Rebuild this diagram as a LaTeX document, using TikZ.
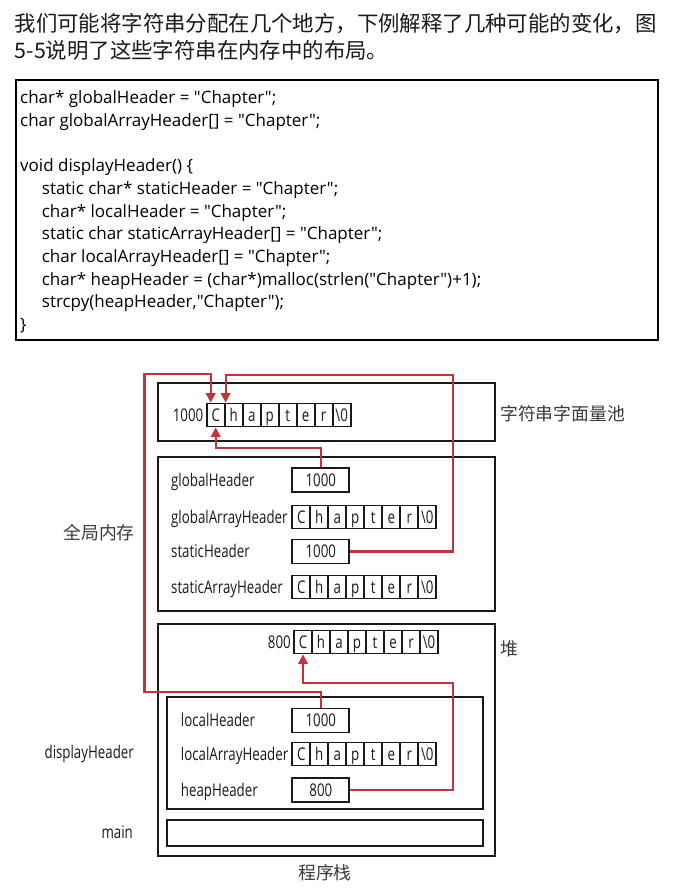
\documentclass[tikz,border=0pt]{standalone}
\usepackage{fontspec}
\usetikzlibrary{arrows.meta}
\newfontfamily\cjk{Noto Sans CJK SC}
\newfontfamily\codefont{Open Sans}
\newfontfamily\figfont[FakeStretch=0.76]{Open Sans}
\definecolor{arrowred}{RGB}{192,52,58}
\definecolor{ink}{RGB}{25,25,25}
\tikzset{
  lbl/.style={font=\figfont\fontsize{17.5}{20}\selectfont, text=ink, inner sep=0pt, text height=12.5pt, text depth=0pt},
  cell/.style={draw=ink, line width=1.8pt, minimum width=18pt, minimum height=23pt, inner sep=0pt,
    font=\figfont\fontsize{17.5}{20}\selectfont, text=ink, text height=12.5pt, text depth=0pt},
  ptr/.style={draw=ink, line width=1.9pt, minimum width=57pt, minimum height=24pt, inner sep=0pt,
    font=\figfont\fontsize{17.5}{20}\selectfont, text=ink, text height=12.5pt, text depth=0pt},
  region/.style={draw=ink, line width=2pt},
  ptrarrow/.style={draw=arrowred, line width=2.2pt, -{Triangle[width=9.5pt,length=9.5pt]}},
  cn/.style={font=\cjk\fontsize{17.8}{20}\selectfont, text=ink!85, inner sep=0pt, text height=13.5pt, text depth=0pt},
  code/.style={font=\codefont\fontsize{17}{20}\selectfont, text=black, inner sep=0pt, anchor=base west},
  title/.style={font=\cjk\fontsize{21.4}{26}\selectfont, text=black!90, inner sep=0pt, anchor=base west}
}
\newcommand{\strcells}[3]{%
  \foreach \ch [count=\i] in {C,h,a,p,t,e,r,{\textbackslash0}} {
    \node[cell] (#1-\i) at ({#2+18*\i-9},#3) {\ch};
  }%
}
\begin{document}
\begin{tikzpicture}[x=1pt,y=-1pt]
\useasboundingbox[fill=white] (0,0) rectangle (683,892);

% title
\node[title] (t1) at (14.5,31.4) {我们可能将字符串分配在几个地方，下例解释了几种可能的变化，图};
\node[title] (t2) at (14.5,58.6) {5-5说明了这些字符串在内存中的布局。};

% code box
\draw[line width=2.4pt, draw=black] (16,80) rectangle (658,340);
\node[code] (c1) at (20,103.5) {char* globalHeader = "Chapter";};
\node[code] (c2) at (20,126.2) {char globalArrayHeader[] = "Chapter";};
\node[code] (c3) at (20,171.6) {void displayHeader() \{};
\node[code] (c4) at (41.7,194.3) {static char* staticHeader = "Chapter";};
\node[code] (c5) at (41.7,217.0) {char* localHeader = "Chapter";};
\node[code] (c6) at (41.7,239.7) {static char staticArrayHeader[] = "Chapter";};
\node[code] (c7) at (41.7,262.4) {char localArrayHeader[] = "Chapter";};
\node[code] (c8) at (41.7,285.1) {char* heapHeader = (char*)malloc(strlen("Chapter")+1);};
\node[code] (c9) at (41.7,307.8) {strcpy(heapHeader,"Chapter");};
\node[code] (c10) at (20,330.5) {\}};

% regions
\draw[region] (157.7,383) rectangle (495,441);
\draw[region] (157.7,456.7) rectangle (495,610.7);
\draw[region] (157.7,624.3) rectangle (495,855.7);
\draw[region] (167.3,696.7) rectangle (482.7,809.3);
\draw[region] (167.3,820) rectangle (482.7,845.7);

% string literal pool
\node[lbl, anchor=east] (pooladdr) at (203.5,415) {1000};
\strcells{pool}{206.7}{415}

% global memory
\node[lbl, anchor=west] (gHl) at (171,480) {globalHeader};
\node[ptr] (gH) at (320.8,480) {1000};
\node[lbl, anchor=west] (gAl) at (171,517) {globalArrayHeader};
\strcells{gA}{292.3}{517}
\node[lbl, anchor=west] (sHl) at (171,551.5) {staticHeader};
\node[ptr] (sH) at (320.8,551.5) {1000};
\node[lbl, anchor=west] (sAl) at (171,587) {staticArrayHeader};
\strcells{sA}{292.3}{587}

% heap
\node[lbl, anchor=east] (heapaddr) at (291,642) {800};
\strcells{heap}{294}{642}

% displayHeader frame
\node[lbl, anchor=west] (lHl) at (180.7,720.5) {localHeader};
\node[ptr] (lH) at (320.8,720.5) {1000};
\node[lbl, anchor=west] (lAl) at (180.7,754) {localArrayHeader};
\strcells{lA}{292.3}{754}
\node[lbl, anchor=west] (hHl) at (180.7,790) {heapHeader};
\node[ptr] (hH) at (320.8,790) {800};

% side labels
\node[cn, anchor=west] (poolname) at (500,414) {字符串字面量池};
\node[cn] (globname) at (99,533) {全局内存};
\node[cn, anchor=west] (heapname) at (500,649) {堆};
\node[lbl, anchor=east] (dispname) at (134,752.5) {displayHeader};
\node[lbl, anchor=east] (mainname) at (133,832.5) {main};
\node[cn] (stackname) at (325,873) {程序栈};

% pointer arrows
\coordinate (g1) at (320.8,448.3);
\draw[ptrarrow] (gH.north) -- (g1) -| (pool-1.south);

\coordinate (s1) at (452.7,375);
\draw[ptrarrow] (sH.east) -| (s1) -| (pool-1.north east);

\coordinate (l1) at (144.5,692.3);
\coordinate (l2) at (144.5,374);
\draw[ptrarrow] (lH.north) |- (l1) -- (l2) -| ([xshift=-5pt]pool-1.north);

\coordinate (h1) at (453.3,683.3);
\draw[ptrarrow] (hH.east) -| (h1) -| (heap-1.south);
\end{tikzpicture}
\end{document}
